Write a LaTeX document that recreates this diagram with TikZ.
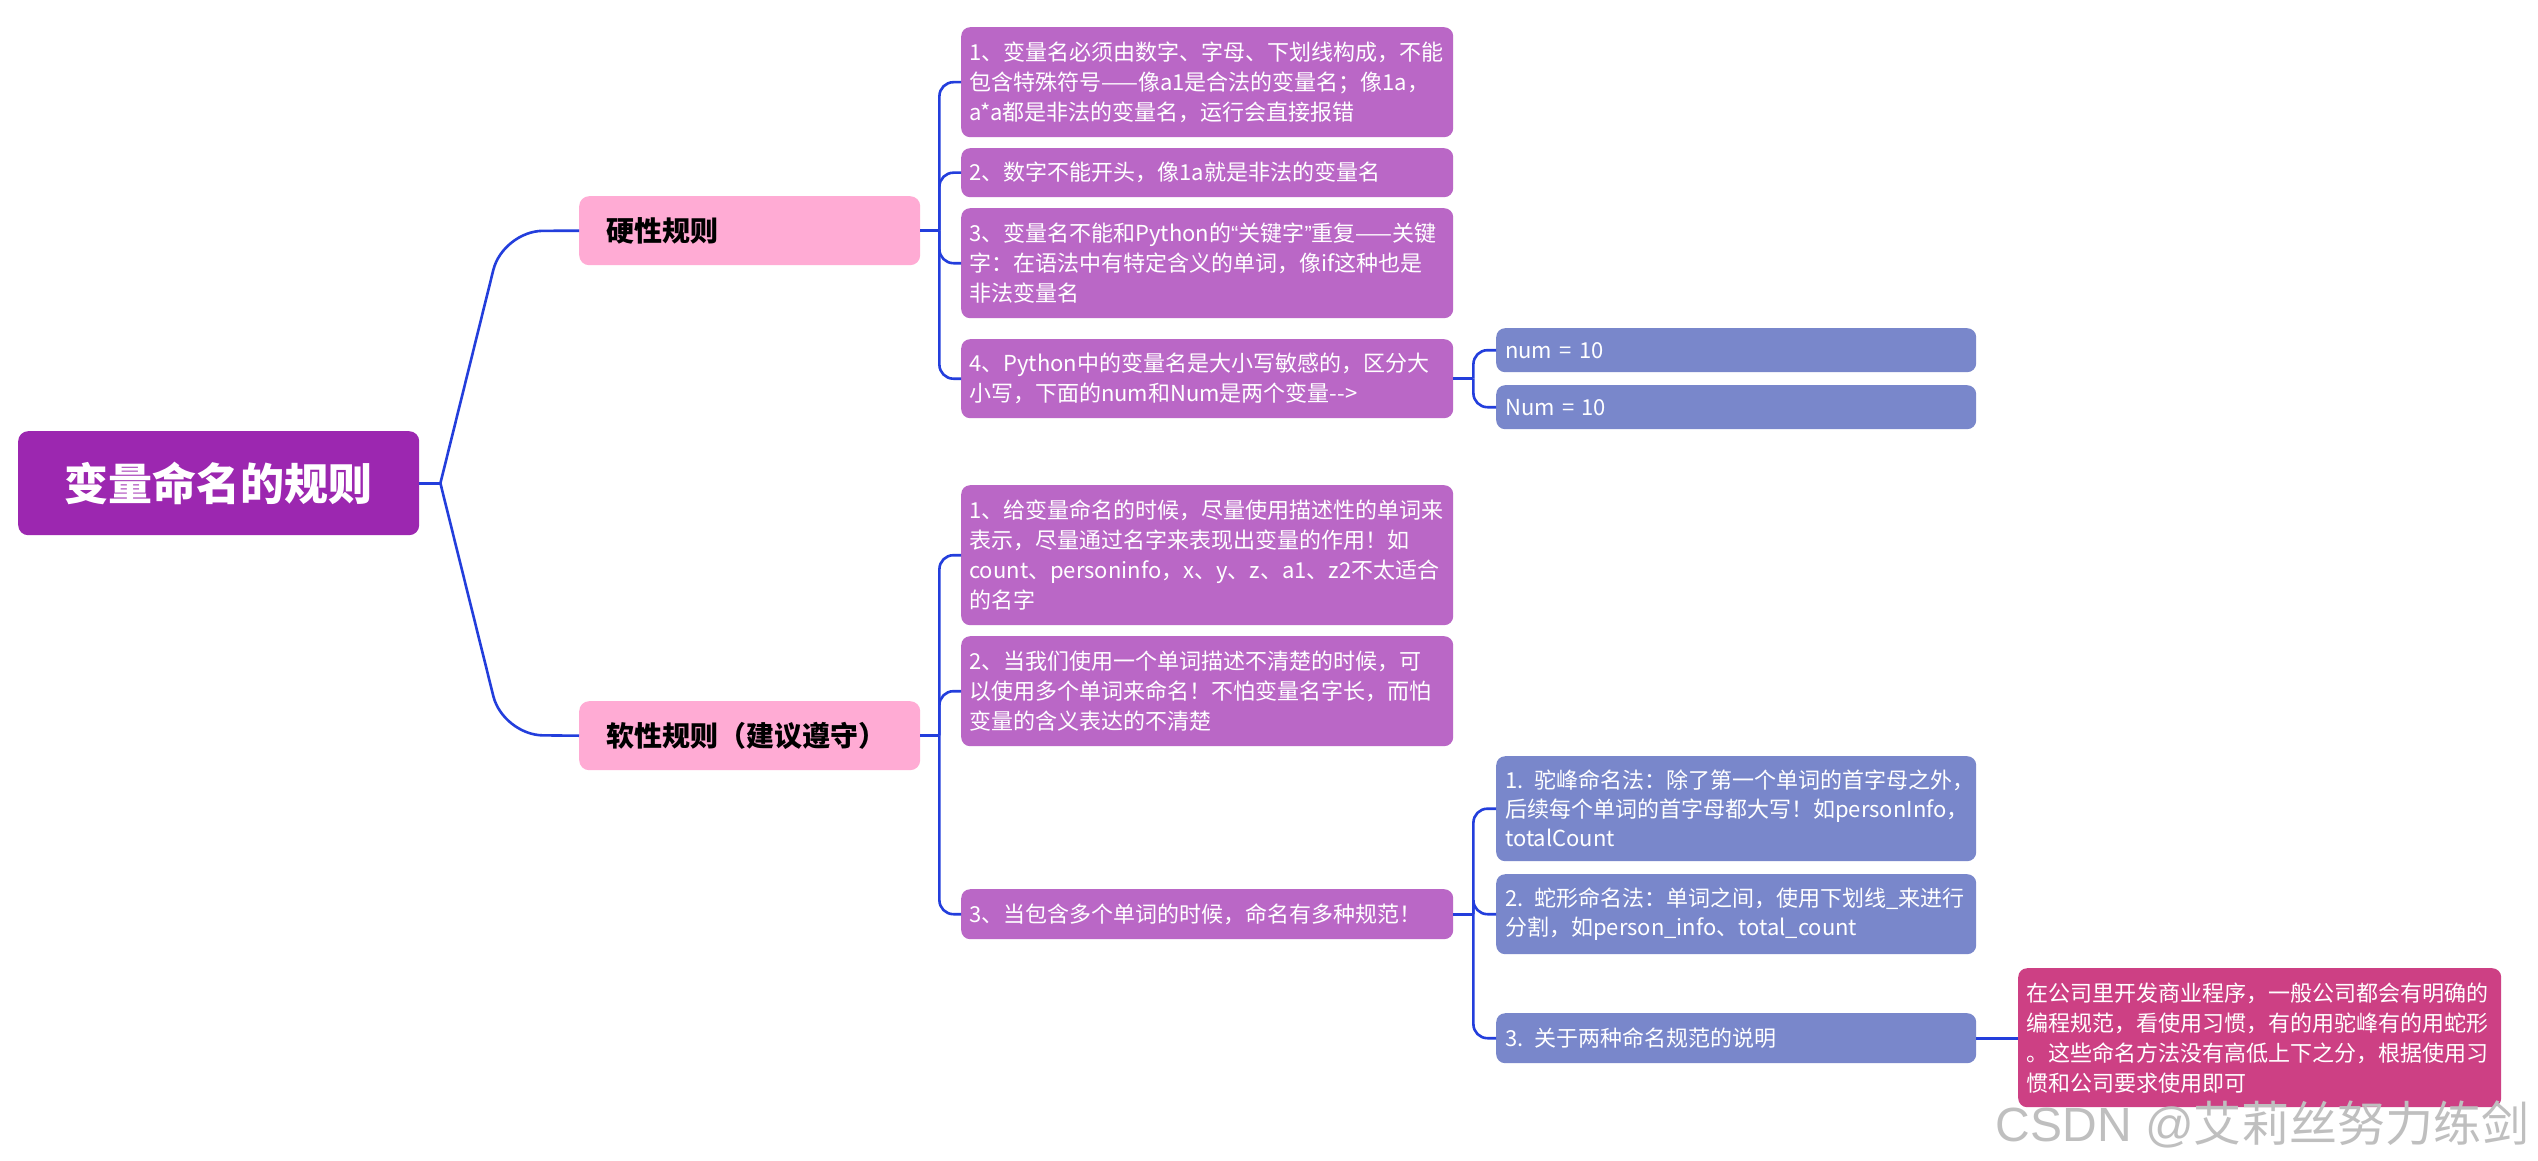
\documentclass[tikz,border=0pt]{standalone}
\usepackage{fontspec}
\setmainfont{Noto Sans CJK SC}
\newfontfamily\quotefont{Liberation Sans}
\usepackage{tikz}
\usetikzlibrary{positioning}
\exhyphenpenalty=10000
\hyphenpenalty=10000
\definecolor{rootpurple}{RGB}{156,39,176}
\definecolor{catpink}{RGB}{255,171,212}
\definecolor{rulepurple}{RGB}{186,103,198}
\definecolor{tipblue}{RGB}{121,135,203}
\definecolor{notered}{RGB}{205,64,132}
\definecolor{linkblue}{RGB}{35,62,220}

\begin{document}
\begin{tikzpicture}[x=1pt, y=-1pt,
    link/.style={draw=linkblue, line width=2.6pt, rounded corners=14pt},
    rootbox/.style={fill=rootpurple, rounded corners=10pt, text=white, font=\bfseries\fontsize{44}{50}\selectfont, minimum width=401pt, minimum height=104pt, anchor=north west},
    catbox/.style={fill=catpink, rounded corners=10pt, font=\bfseries\fontsize{28}{34}\selectfont, text width=287pt, inner xsep=27pt, align=left, minimum height=69pt, anchor=north west},
    rulebox/.style={fill=rulepurple, rounded corners=9pt, text=white, font=\fontsize{22}{30}\selectfont, text width=476pt, inner xsep=8pt, align=left, anchor=north west},
    tipbox/.style={fill=tipblue, rounded corners=9pt, text=white, font=\fontsize{22}{29}\selectfont, text width=462pt, inner xsep=9pt, align=left, anchor=north west},
    notebox/.style={fill=notered, rounded corners=9pt, text=white, font=\fontsize{22}{30}\selectfont, text width=467pt, inner xsep=8pt, align=left, anchor=north west}]
            \useasboundingbox[fill=white] (0,0) rectangle (2538,1161);

            \node[rootbox] (root) at (18,431) {变量命名的规则};
            \node[catbox] (hard) at (579,196) {硬性规则};
            \node[catbox] (soft) at (579,701) {软性规则（建议遵守）};

            \node[rulebox, minimum height=110pt] (h1) at (961,27) {1、变量名必须由数字、字母、下划线构成，不能\\包含特殊符号——像a1是合法的变量名；像1a，\\a*a都是非法的变量名，运行会直接报错};
            \node[rulebox, minimum height=49pt] (h2) at (961,148) {2、数字不能开头，像1a就是非法的变量名};
            \node[rulebox, minimum height=110pt] (h3) at (961,208) {3、变量名不能和Python的{\quotefont “}关键字{\quotefont ”}重复——关键\\字：在语法中有特定含义的单词，像if这种也是\\非法变量名};
            \node[rulebox, minimum height=79pt] (h4) at (961,339) {4、Python中的变量名是大小写敏感的，区分大\\小写，下面的num和Num是两个变量-{}-{}>};
            \node[tipbox, minimum height=44pt] (lower) at (1496,328) {num = 10};
            \node[tipbox, minimum height=44pt] (upper) at (1496,385) {Num = 10};

            \node[rulebox, minimum height=140pt] (s1) at (961,485) {1、给变量命名的时候，尽量使用描述性的单词来\\表示，尽量通过名字来表现出变量的作用！如\\count、personinfo，x、y、z、a1、z2不太适合\\的名字};
            \node[rulebox, minimum height=110pt] (s2) at (961,636) {2、当我们使用一个单词描述不清楚的时候，可\\以使用多个单词来命名！不怕变量名字长，而怕\\变量的含义表达的不清楚};
            \node[rulebox, minimum height=50pt] (s3) at (961,889) {3、当包含多个单词的时候，命名有多种规范！};
            \node[tipbox, minimum height=105pt] (n1) at (1496,756) {1. 驼峰命名法：除了第一个单词的首字母之外，\\后续每个单词的首字母都大写！如personInfo，\\totalCount};
            \node[tipbox, minimum height=80pt] (n2) at (1496,874) {2. 蛇形命名法：单词之间，使用下划线\_来进行\\分割，如person\_info、total\_count};
            \node[tipbox, minimum height=50pt] (n3) at (1496,1013) {3. 关于两种命名规范的说明};
            \node[notebox, minimum height=139pt] (note) at (2018,968) {在公司里开发商业程序，一般公司都会有明确的\\编程规范，看使用习惯，有的用驼峰有的用蛇形\\。这些命名方法没有高低上下之分，根据使用习\\惯和公司要求使用即可};

            \coordinate (rootfork) at ([xshift=21pt]root.east);
            \coordinate (hardfork) at ([xshift=19pt]hard.east);
            \coordinate (softfork) at ([xshift=19pt]soft.east);
            \coordinate (casefork) at ([xshift=20pt]h4.east);
            \coordinate (namefork) at ([xshift=20pt]s3.east);

            \draw[link] (root) -- (rootfork);
            \draw[link, rounded corners=40pt] (rootfork) -- (503,231) -- (hard.west);
            \draw[link, rounded corners=40pt] (rootfork) -- (503,735) -- (soft.west);
            \draw[link] (hard) -- (hardfork);
            \draw[link] (soft) -- (softfork);
            \draw[link] (h4) -- (casefork);
            \draw[link] (s3) -- (namefork);
            \foreach \n in {h1,h2,h3,h4}
                \draw[link] (hardfork) |- (\n.west);
            \foreach \n in {s1,s2,s3}
                \draw[link] (softfork) |- (\n.west);
            \foreach \n in {lower,upper}
                \draw[link] (casefork) |- (\n.west);
            \foreach \n in {n1,n2,n3}
                \draw[link] (namefork) |- (\n.west);
            \draw[link] (n3.east) -- (n3.east -| note.west);

            \node[font=\fontsize{48}{52}\selectfont, text=black!25, anchor=south east, inner sep=0pt] (mark) at (2530,1148) {{\quotefont CSDN @}艾莉丝努力练剑};
        \end{tikzpicture}
\end{document}
